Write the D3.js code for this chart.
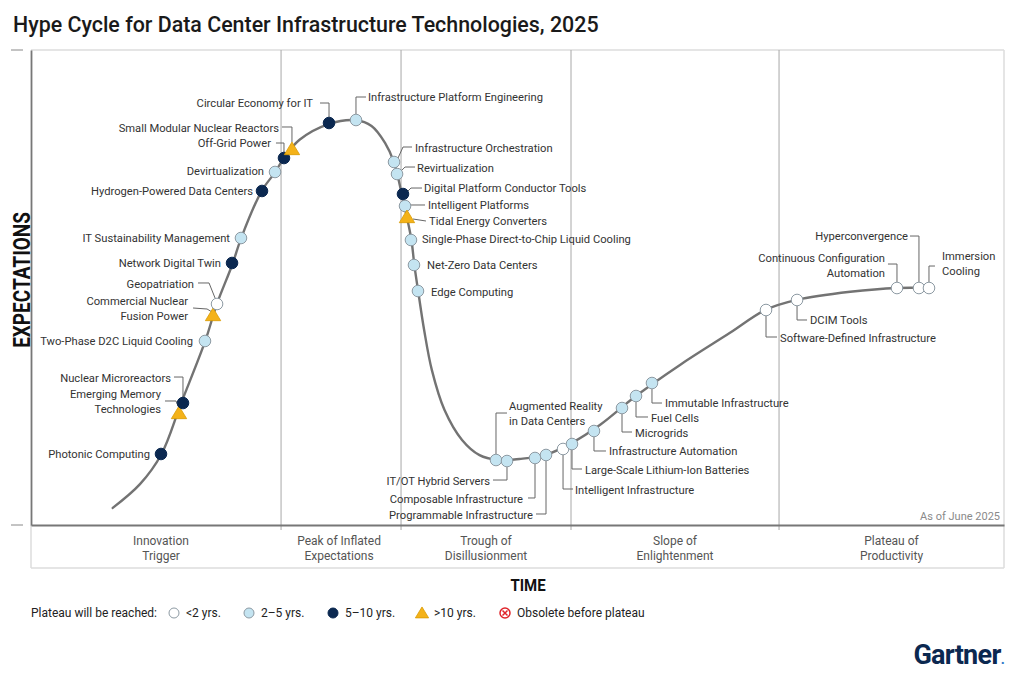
<!DOCTYPE html>
<html>
<head>
<meta charset="utf-8">
<script src="https://cdn.jsdelivr.net/npm/d3@7"></script>
<style>
  html, body { margin: 0; padding: 0; background: #fff; }
  svg { display: block; font-family: Roboto, "Noto Sans", sans-serif; }
</style>
</head>
<body>
<svg id="chart" width="1024" height="675"></svg>
<script>
// ---------------- DATA ----------------
const title = "Hype Cycle for Data Center Infrastructure Technologies, 2025";

// Curve shape (time, expectations) in 0-100 units
const curveTime = [8.4, 11.2, 13.4, 15.4, 17.9, 19.1, 20.7, 21.6, 23.7, 25.1, 26.0, 27.6, 30.6, 33.4, 35.0, 36.4, 37.3, 38.1, 38.6, 39.1, 39.4, 39.8, 40.4, 41.2, 42.5, 44.3, 46.1, 47.9, 50.2, 52.8, 55.6, 58.5, 62.2, 66.7, 71.8, 75.5, 78.7, 84.2, 89.0, 92.3];
const curveExp  = [3.6, 8.6, 14.9, 25.5, 38.7, 46.5, 54.9, 60.4, 70.3, 74.3, 77.3, 81.1, 84.4, 85.2, 84.0, 80.4, 76.4, 69.7, 65.1, 60.0, 54.7, 49.1, 41.1, 32.6, 24.2, 17.9, 14.7, 13.7, 13.9, 14.7, 17.3, 21.1, 27.2, 33.7, 40.4, 45.3, 47.4, 49.1, 49.9, 49.9];

// Phases
const phaseNames = ["Innovation\nTrigger", "Peak of Inflated\nExpectations", "Trough of\nDisillusionment", "Slope of\nEnlightenment", "Plateau of\nProductivity"];
const phaseBounds = [0, 25.7, 38.03, 55.5, 76.88, 100];

// Technologies
const techNames = [
  "Photonic Computing", "Emerging Memory\nTechnologies", "Nuclear Microreactors", "Two-Phase D2C Liquid Cooling",
  "Commercial Nuclear\nFusion Power", "Geopatriation", "Network Digital Twin", "IT Sustainability Management",
  "Hydrogen-Powered Data Centers", "Devirtualization", "Off-Grid Power", "Small Modular Nuclear Reactors",
  "Circular Economy for IT", "Infrastructure Platform Engineering", "Infrastructure Orchestration", "Revirtualization",
  "Digital Platform Conductor Tools", "Intelligent Platforms", "Tidal Energy Converters", "Single-Phase Direct-to-Chip Liquid Cooling",
  "Net-Zero Data Centers", "Edge Computing", "Augmented Reality\nin Data Centers", "IT/OT Hybrid Servers",
  "Composable Infrastructure", "Programmable Infrastructure", "Intelligent Infrastructure", "Large-Scale Lithium-Ion Batteries",
  "Infrastructure Automation", "Microgrids", "Fuel Cells", "Immutable Infrastructure",
  "Software-Defined Infrastructure", "DCIM Tools", "Continuous Configuration\nAutomation", "Hyperconvergence",
  "Immersion\nCooling"
];
const techTime = [13.36, 15.21, 15.62, 17.88, 18.71, 19.12, 20.66, 21.58, 23.74, 25.08, 26.0, 26.82, 30.63, 33.4, 37.31, 37.62, 38.23, 38.44, 38.64, 39.05, 39.36, 39.77, 47.79, 48.92, 51.8, 52.93, 54.68, 55.6, 57.86, 60.74, 62.18, 63.82, 75.54, 78.73, 89.0, 91.26, 92.29];
const techExp  = [14.95, 23.58, 25.68, 38.74, 44.21, 46.53, 55.16, 60.42, 70.32, 74.32, 77.26, 79.16, 84.63, 85.26, 76.42, 73.89, 69.68, 67.16, 64.84, 60.0, 54.74, 49.26, 13.68, 13.47, 14.11, 14.74, 16.0, 17.05, 19.79, 24.63, 27.16, 29.89, 45.26, 47.37, 49.89, 49.89, 49.89];
// plateau category: "lt2", "2to5", "5to10", "gt10"
const techCat = ["5to10", "gt10", "5to10", "2to5", "gt10", "lt2", "5to10", "2to5", "5to10", "2to5", "5to10", "gt10", "5to10", "2to5", "2to5", "2to5", "5to10", "2to5", "gt10", "2to5", "2to5", "2to5", "2to5", "2to5", "2to5", "2to5", "lt2", "2to5", "2to5", "2to5", "2to5", "2to5", "lt2", "lt2", "lt2", "lt2", "lt2"];

// Legend
const legendTitle = "Plateau will be reached:";
const legendKeys = ["lt2", "2to5", "5to10", "gt10", "obsolete"];
const legendLabels = ["<2 yrs.", "2\u20135 yrs.", "5\u201310 yrs.", ">10 yrs.", "Obsolete before plateau"];

// ---------------- LAYOUT (label placement, px offsets from marker) ----------------
// [anchor, dx, dy(first line centre), leader points...]
const labelLayout = [
  ["end", -11, 0, null],
  ["end", -18, -19, [[-14,-12],[-3,-12],[0,-5]]],
  ["end", -12, -25, [[-9,-26],[0,-26],[0,-6]]],
  ["end", -12, 0, null],
  ["end", -25, -14, [[-20,-7],[-6,-6],[-1,-3]]],
  ["end", -23, -20, [[-19,-21],[-8,-21],[-2,-6]]],
  ["end", -11, 0, null],
  ["end", -11, 0, null],
  ["end", -9, 0, null],
  ["end", -11, -1, null],
  ["end", -13, -15, [[-8,-15],[0,-15],[0,-6]]],
  ["end", -13, -21, [[-10,-22],[0,-22],[0,-7]]],
  ["end", -16, -20, [[-9,-20],[0,-20],[0,-6]]],
  ["start", 12, -23, [[10,-23],[0,-23],[0,-6]]],
  ["start", 21, -14, [[18,-15],[9,-15],[4,-4]]],
  ["start", 20, -6, [[18,-7],[8,-7],[4,-3]]],
  ["start", 21, -6, [[19,-6],[8,-6],[4,-2]]],
  ["start", 23, -1, [[20,-1],[6,-1]]],
  ["start", 22, 4, [[19,4],[6,2]]],
  ["start", 11, -1, null],
  ["start", 13, 0, null],
  ["start", 13, 1, null],
  ["start", 13, -54, [[11,-47],[0,-47],[0,-6]]],
  ["end", -17, 20, [[-14,19],[0,19],[0,6]]],
  ["end", -12, 41, [[-7,40],[0,40],[0,6]]],
  ["end", -13, 60, [[-10,59],[0,59],[0,6]]],
  ["start", 12, 41, [[10,40],[0,40],[0,6]]],
  ["start", 13, 26, [[10,25],[0,25],[0,6]]],
  ["start", 15, 20, [[12,20],[0,20],[0,6]]],
  ["start", 13, 25, [[10,24],[0,24],[0,6]]],
  ["start", 15, 22, [[12,21],[0,21],[0,6]]],
  ["start", 13, 20, [[10,20],[0,20],[0,6]]],
  ["start", 14, 28, [[11,27],[0,27],[0,6]]],
  ["start", 13, 20, [[10,20],[0,20],[0,6]]],
  ["end", -12, -30, [[-9,-24],[0,-24],[0,-6]]],
  ["end", -11, -52, [[-9,-52],[0,-52],[0,-6]]],
  ["start", 13, -32, [[6,-22],[0,-22],[0,-6]]]
];
const legendMarkerX = [174, 249, 333, 422, 505];

// ---------------- DRAW ----------------
const svg = d3.select("#chart");
const plot = { left: 31, right: 1004, top: 50, bottom: 525 };
const bandBottom = 568;

const x = d3.scaleLinear().domain([0, 100]).range([plot.left, plot.right]);
const y = d3.scaleLinear().domain([0, 100]).range([plot.bottom, plot.top]);

const colors = {
  lt2: "#ffffff", "2to5": "#c4e4f1", "5to10": "#0b2850", gt10: "#f4b219"
};

// Title
svg.append("text").attr("x", 13).attr("y", 32)
  .attr("font-size", 21.4).attr("font-weight", 500).attr("fill", "#1a1a1a")
  .text(title);

// frame: top & right light borders
svg.append("line").attr("x1", plot.left).attr("x2", plot.right).attr("y1", plot.top).attr("y2", plot.top)
  .attr("stroke", "#dcdcdc").attr("stroke-width", 1.5);
svg.append("line").attr("x1", plot.right).attr("x2", plot.right).attr("y1", plot.top).attr("y2", bandBottom)
  .attr("stroke", "#dcdcdc").attr("stroke-width", 1.5);
svg.append("line").attr("x1", plot.left).attr("x2", plot.right).attr("y1", bandBottom).attr("y2", bandBottom)
  .attr("stroke", "#dcdcdc").attr("stroke-width", 1.5);
svg.append("line").attr("x1", plot.left).attr("x2", plot.left).attr("y1", plot.bottom).attr("y2", bandBottom)
  .attr("stroke", "#dcdcdc").attr("stroke-width", 1.5);

// phase dividers
svg.append("g").selectAll("line").data(phaseBounds.slice(1, -1)).join("line")
  .attr("x1", d => x(d)).attr("x2", d => x(d))
  .attr("y1", plot.top).attr("y2", plot.bottom + 5)
  .attr("stroke", "#a8a8a8").attr("stroke-width", 1);

// axes (D3 axes without ticks)
const xAxis = d3.axisBottom(x).tickValues([]).tickSizeOuter(0);
const yAxis = d3.axisLeft(y).tickValues([]).tickSizeOuter(0);
const gx = svg.append("g").attr("transform", `translate(0,${plot.bottom})`).call(xAxis);
gx.select(".domain").attr("stroke", "#777").attr("stroke-width", 2.2);
const gy = svg.append("g").attr("transform", `translate(${plot.left},0)`).call(yAxis);
gy.select(".domain").attr("stroke", "#777").attr("stroke-width", 1.8);

// small dashes left of axis
svg.append("g").selectAll("line").data([100, 0]).join("line")
  .attr("x1", 11).attr("x2", 23).attr("y1", d => y(d)).attr("y2", d => y(d))
  .attr("stroke", "#888").attr("stroke-width", 1);

// phase labels
const pg = svg.append("g").attr("font-size", 12).attr("fill", "#555").attr("text-anchor", "middle");
phaseNames.forEach((p, i) => {
  const cx = (x(phaseBounds[i]) + x(phaseBounds[i + 1])) / 2 + (i === 0 ? 5 : (i === 1 ? -2 : 0));
  const t = pg.append("text").attr("x", cx).attr("y", 545);
  p.split("\n").forEach((ln, j) => {
    t.append("tspan").attr("x", cx).attr("dy", j === 0 ? 0 : 15).text(ln);
  });
});

// As of
svg.append("text").attr("x", 1000).attr("y", 520).attr("text-anchor", "end")
  .attr("font-size", 11).attr("fill", "#8a8a8a").text("As of June 2025");

// Axis titles
svg.append("text").attr("transform", `translate(30,280) rotate(-90) scale(1,1.22)`)
  .attr("text-anchor", "middle").attr("font-size", 19).attr("font-weight", 700).attr("fill", "#111")
  .text("EXPECTATIONS");
svg.append("text").attr("x", 528).attr("y", 591).attr("text-anchor", "middle")
  .attr("transform", "translate(528,591) scale(1,1.1) translate(-528,-591)")
  .attr("font-size", 15).attr("font-weight", 700).attr("fill", "#111").text("TIME");

// Curve
const curvePts = curveTime.map((t, i) => [t, curveExp[i]]);
const line = d3.line().x(d => x(d[0])).y(d => y(d[1])).curve(d3.curveCatmullRom.alpha(0.5));
svg.append("path").attr("d", line(curvePts)).attr("fill", "none")
  .attr("stroke", "#737373").attr("stroke-width", 2.4).attr("stroke-linecap", "round");

// Technologies
const techs = techNames.map((n, i) => ({ name: n, t: techTime[i], e: techExp[i], cat: techCat[i], lay: labelLayout[i] }));

const leaderG = svg.append("g").attr("fill", "none").attr("stroke", "#666").attr("stroke-width", 1);
const markG = svg.append("g");
const labelG = svg.append("g").attr("font-size", 11.2).attr("fill", "#333");

function drawMarker(g, cx, cy, cat, r) {
  if (cat === "gt10") {
    const s = r * 1.15;
    g.append("path")
      .attr("d", `M${cx},${cy - s * 1.05} L${cx + s * 1.15},${cy + s * 0.85} L${cx - s * 1.15},${cy + s * 0.85} Z`)
      .attr("fill", colors.gt10).attr("stroke", "#d99a00").attr("stroke-width", 0.8);
  } else if (cat === "obsolete") {
    g.append("circle").attr("cx", cx).attr("cy", cy).attr("r", r).attr("fill", "#fff")
      .attr("stroke", "#e0242a").attr("stroke-width", 1.5);
    const k = r * 0.5;
    g.append("path").attr("d", `M${cx - k},${cy - k}L${cx + k},${cy + k}M${cx + k},${cy - k}L${cx - k},${cy + k}`)
      .attr("stroke", "#e0242a").attr("stroke-width", 1.5);
  } else {
    g.append("circle").attr("cx", cx).attr("cy", cy).attr("r", r)
      .attr("fill", colors[cat])
      .attr("stroke", cat === "5to10" ? "#0b2850" : "#8d9aa3").attr("stroke-width", 1);
  }
}

techs.forEach(d => {
  const mx = x(d.t), my = y(d.e);
  const [anchor, dx, dy, leader] = d.lay;
  if (leader) {
    leaderG.append("path").attr("d", d3.line()(leader.map(p => [mx + p[0], my + p[1]])));
  }
  drawMarker(markG, mx, my, d.cat, 5.8);
  const t = labelG.append("text").attr("text-anchor", anchor).attr("x", mx + dx).attr("y", my + dy)
    .attr("dominant-baseline", "central");
  d.name.split("\n").forEach((ln, j) => {
    t.append("tspan").attr("x", mx + dx).attr("dy", j === 0 ? 0 : 15).text(ln);
  });
});

// Legend
const lg = svg.append("g").attr("font-size", 12).attr("fill", "#222");
const legY = 613;
lg.append("text").attr("x", 31).attr("y", legY).attr("dominant-baseline", "central").text(legendTitle);
legendKeys.forEach((k, i) => {
  const cx = legendMarkerX[i];
  drawMarker(lg, cx, legY, k, 5);
  lg.append("text").attr("x", cx + 12).attr("y", legY).attr("dominant-baseline", "central").text(legendLabels[i]);
});

// Gartner logo
const logo = svg.append("text").attr("x", 1004).attr("y", 664).attr("text-anchor", "end")
  .attr("font-size", 27).attr("font-weight", 700).attr("fill", "#0b2850").attr("letter-spacing", -0.7);
logo.append("tspan").text("Gartner");
logo.append("tspan").attr("fill", "#2a78c8").attr("font-size", 14).text(".");
</script>
</body>
</html>
